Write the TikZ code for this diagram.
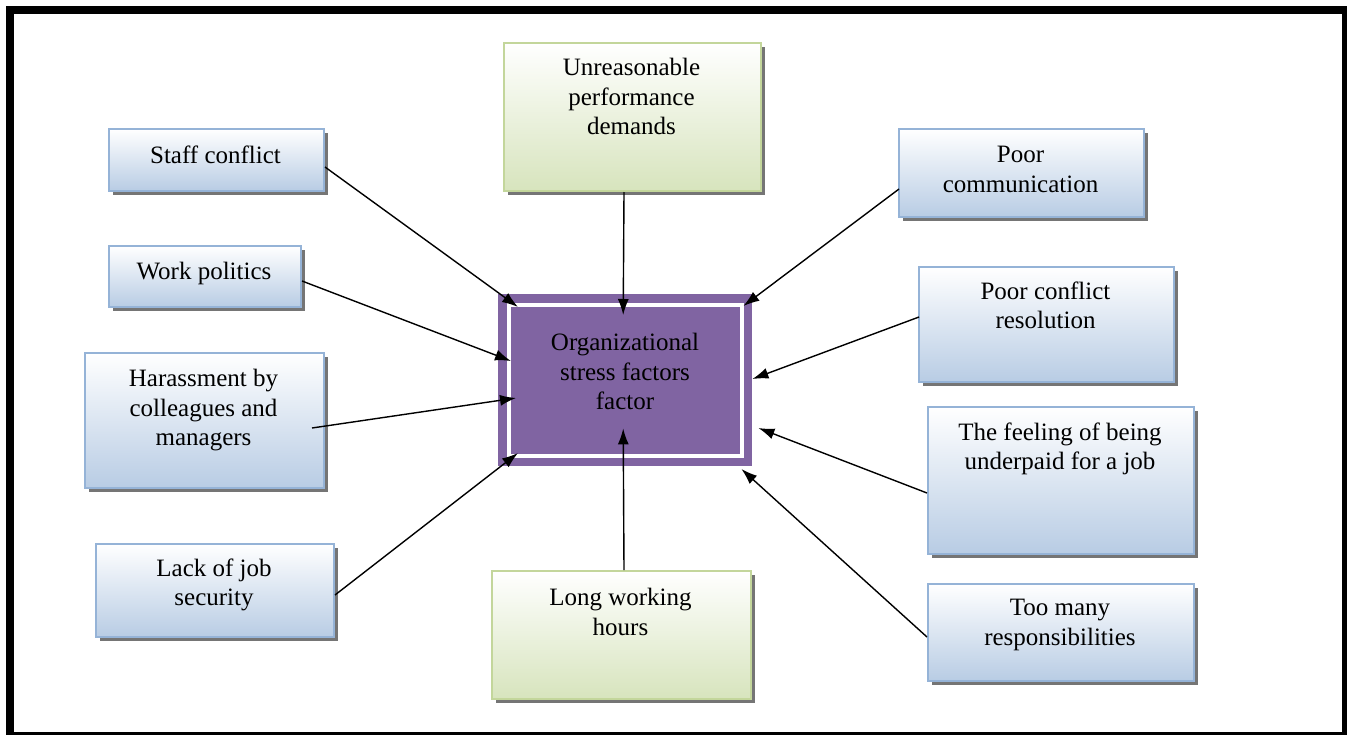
\documentclass[tikz,border=0pt]{standalone}
\usepackage{fontspec}
\setmainfont{Liberation Serif}
\usetikzlibrary{shadows,arrows.meta,calc}
\definecolor{bluebd}{RGB}{149,179,215}
\definecolor{bluebot}{RGB}{184,204,228}
\definecolor{greenbd}{RGB}{195,214,155}
\definecolor{greenbot}{RGB}{215,228,189}
\definecolor{purp}{RGB}{128,100,162}
\begin{document}
\begin{tikzpicture}[x=1pt,y=-1pt,
  box/.style={draw=bluebd, line width=2pt, top color=white, bottom color=bluebot,
    anchor=north west, inner sep=0pt,
    drop shadow={shadow xshift=4pt, shadow yshift=-4pt, fill=black!60, opacity=0.9}},
  gbox/.style={box, draw=greenbd, bottom color=greenbot},
  txt/.style={font=\fontsize{25}{29.5}\selectfont, align=center, anchor=north,
    inner sep=0pt, execute at begin node=\strut},
  arr/.style={-{Latex[length=16pt,width=11pt]}, line width=1.4pt}]
\useasboundingbox (0,0) rectangle (1347,734);
\draw[line width=8pt] (10,10) rectangle (1346,736);

% left boxes
\node[box, minimum width=215pt, minimum height=62pt] (staff) at (108,128) {};
\node[txt] (staffT) at (215.5,142.4) {Staff conflict};
\node[box, minimum width=192pt, minimum height=61pt] (work) at (108,245) {};
\node[txt] (workT) at (204,258.4) {Work politics};
\node[box, minimum width=239pt, minimum height=135pt] (harass) at (84,352) {};
\node[txt] (harassT) at (203.5,369.4) {Harassment by\\colleagues and\\managers};
\node[box, minimum width=238pt, minimum height=93pt] (lack) at (95,543) {};
\node[txt] (lackT) at (214,558.4) {Lack of job\\security};

% green boxes
\node[gbox, minimum width=257pt, minimum height=148pt] (unreas) at (503,42) {};
\node[txt] (unreasT) at (631.5,58.4) {Unreasonable\\performance\\demands};
\node[gbox, minimum width=259pt, minimum height=128pt] (long) at (491,570) {};
\node[txt] (longT) at (620.5,588.4) {Long working\\hours};

% right boxes
\node[box, minimum width=245pt, minimum height=88pt] (pcomm) at (898,128) {};
\node[txt] (pcommT) at (1020.5,146.4) {Poor\\communication};
\node[box, minimum width=255pt, minimum height=115pt] (pconf) at (918,266) {};
\node[txt] (pconfT) at (1045.5,281.4) {Poor conflict\\resolution};
\node[box, minimum width=266pt, minimum height=147pt] (feel) at (927,406) {};
\node[txt] (feelT) at (1060,422.4) {The feeling of being\\underpaid for a job};
\node[box, minimum width=266pt, minimum height=97pt] (toomany) at (927,583) {};
\node[txt] (toomanyT) at (1060,599.4) {Too many\\responsibilities};

% centre
\node[fill=purp, draw=none, anchor=north west, inner sep=0pt,
  minimum width=254pt, minimum height=172pt] (center) at (498,294) {};
\draw[white, line width=4pt] ([shift={(10.5,10.5)}]center.north west)
  rectangle ([shift={(-10.5,-10.5)}]center.south east);
\node[txt] (centerT) at (625,333.4) {Organizational\\stress factors\\factor};

% connectors
\draw[arr] ([shift={(0,39)}]staff.north east) -- ([shift={(20,13)}]center.north west);
\draw[arr] ([shift={(0,36)}]work.north east) -- ([shift={(13,67)}]center.north west);
\draw[arr] ([shift={(-13,76)}]harass.north east) -- ([shift={(18,104)}]center.north west);
\draw[arr] ([shift={(0,52)}]lack.north east) -- ([shift={(20,159)}]center.north west);
\draw[arr] ([shift={(-8.5,0)}]unreas.south) -- ([shift={(-2,21)}]center.north);
\draw[arr] ([shift={(2.5,0)}]long.north) -- ([shift={(-2,-38)}]center.south);
\draw[arr] ([shift={(1,61)}]pcomm.north west) -- ([shift={(-9,12)}]center.north east);
\draw[arr] ([shift={(1,51)}]pconf.north west) -- ([shift={(0,85)}]center.north east);
\draw[arr] ([shift={(0,87)}]feel.north west) -- ([shift={(6,134)}]center.north east);
\draw[arr] ([shift={(0,54)}]toomany.north west) -- ([shift={(-11,175)}]center.north east);
\end{tikzpicture}
\end{document}
